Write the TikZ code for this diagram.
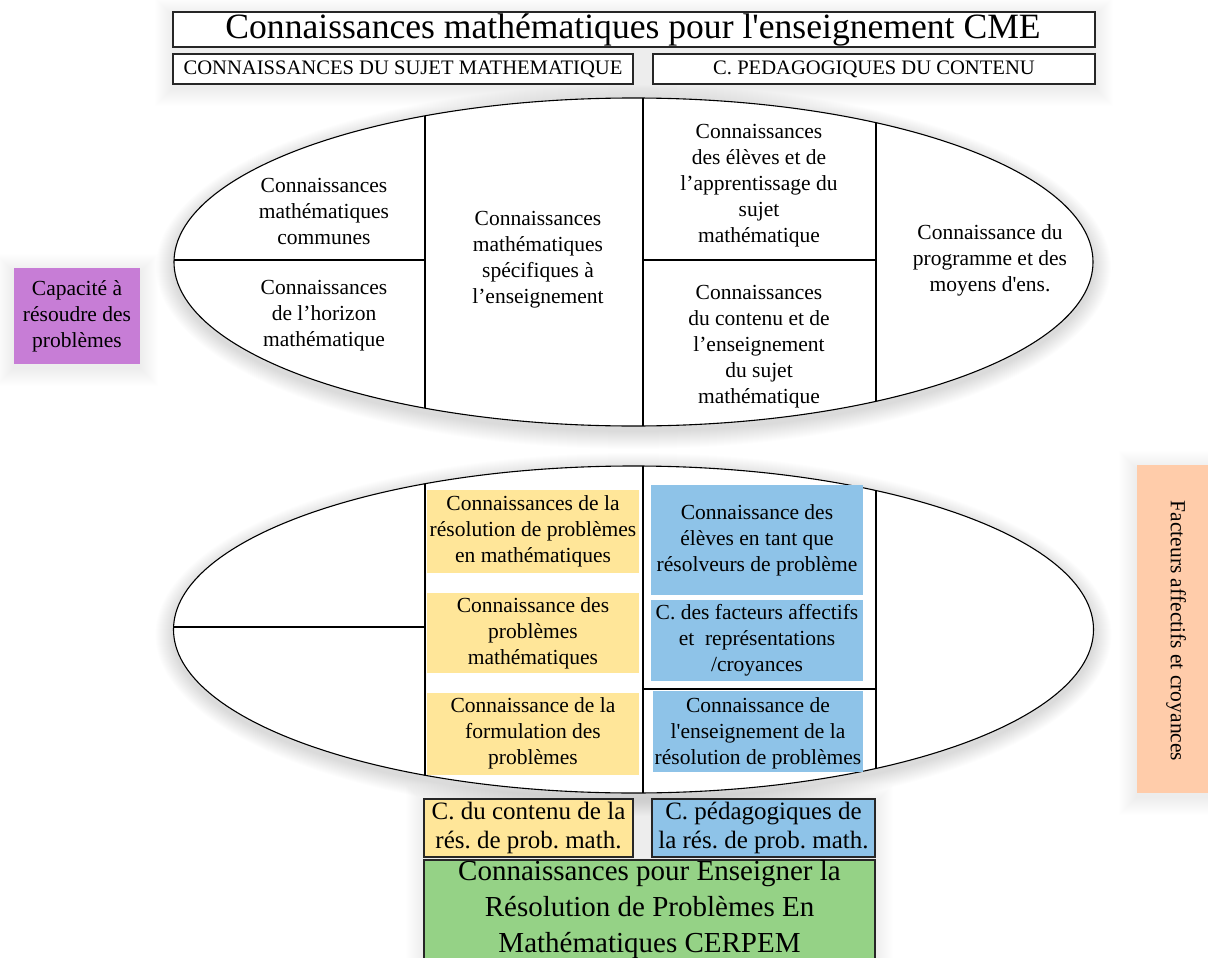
\documentclass[tikz,border=0pt]{standalone}
\usepackage{fontspec}
\setmainfont{Liberation Serif}
\newfontfamily\plainf{Liberation Serif}
\frenchspacing
\newcommand\sq{{\plainf\char39\relax}}
\definecolor{yelF}{HTML}{FFE699}
\definecolor{bluF}{HTML}{8EC3E8}
\definecolor{grnF}{HTML}{95D286}
\definecolor{peaF}{HTML}{FFCCAA}
\definecolor{purF}{HTML}{C77DD6}
\newcommand\shadowrect[4]{%
  \foreach \k in {1,...,18}{\fill[black,opacity=0.0055] ({#1-\k},{#2-\k+4}) rectangle ({#3+\k},{#4+\k+4});}}
\newcommand\shadowell[4]{%
  \foreach \k in {1,...,18}{\fill[black,opacity=0.0065] (#1,{#2+5}) ellipse ({#3+\k} and {#4+\k});}}
\tikzset{
  txt/.style={font=\fontsize{21.5}{26}\selectfont, align=center, inner sep=0pt},
  sline/.style={draw=black, line width=1.1pt},
  frame/.style={draw=black!85, line width=1.3pt},
}
\begin{document}
\begin{tikzpicture}[x=1pt,y=-1pt]
\clip (0,0) rectangle (1208,958);
\fill[white] (0,0) rectangle (1208,958);
% shadows
\shadowrect{173}{12}{1095}{84}
\shadowell{633.5}{262}{459.5}{164}
\shadowell{633.5}{629.5}{460}{163.5}
\shadowrect{14}{268}{140}{364}
\shadowrect{1137}{465}{1225}{793}
\shadowrect{424}{799}{875}{975}
% header
\draw[frame, fill=white] (173,12) rectangle (1095,47);
\node[inner sep=0pt, font=\fontsize{35.6}{40}\selectfont] (title) at (633,30) {Connaissances mathématiques pour l\sq enseignement CME};
\draw[frame, fill=white] (173,54) rectangle (633,84);
\node[inner sep=0pt, font=\fontsize{20.6}{24}\selectfont] (sujet) at (403,69.5) {CONNAISSANCES DU SUJET MATHEMATIQUE};
\draw[frame, fill=white] (653,54) rectangle (1095,84);
\node[inner sep=0pt, font=\fontsize{20.6}{24}\selectfont] (pedag) at (874,69.5) {C. PEDAGOGIQUES DU CONTENU};
% top ellipse
\fill[white] (633.5,262) ellipse (459.5 and 164);
\begin{scope}
  \clip (633.5,262) ellipse (459.5 and 164);
  \draw[sline] (425,90) -- (425,430);
  \draw[sline] (643,90) -- (643,430);
  \draw[sline] (876,90) -- (876,430);
  \draw[sline] (160,260) -- (425,260);
  \draw[sline] (643,260) -- (876,260);
\end{scope}
\draw[sline] (633.5,262) ellipse (459.5 and 164);
\node[txt] (mc) at (324,211) {Connaissances\\mathématiques\\communes};
\node[txt] (hz) at (324,316) {Connaissances\\de l’horizon\\mathématique};
\node[txt] (spe) at (538,260) {Connaissances\\mathématiques\\spécifiques à\\l’enseignement};
\node[txt] (eleves) at (759,185.5) {Connaissances\\des élèves et de\\l’apprentissage du\\sujet\\mathématique};
\node[txt] (cont) at (759,347) {Connaissances\\du contenu et de\\l’enseignement\\du sujet\\mathématique};
\node[txt] (prog) at (990,260) {Connaissance du\\programme et des\\moyens d\sq ens.};
% purple
\fill[purF] (14,268) rectangle (140,364);
\node[txt] (cap) at (77,316) {Capacité à\\résoudre des\\problèmes};
% bottom ellipse
\fill[white] (633.5,629.5) ellipse (460 and 163.5);
\begin{scope}
  \clip (633.5,629.5) ellipse (460 and 163.5);
  \draw[sline] (425,460) -- (425,800);
  \draw[sline] (643,460) -- (643,800);
  \draw[sline] (876,460) -- (876,800);
  \draw[sline] (160,627) -- (425,627);
  \draw[sline] (643,689) -- (876,689);
\end{scope}
\draw[sline] (633.5,629.5) ellipse (460 and 163.5);
\fill[yelF] (427,490) rectangle (639,573);
\fill[yelF] (427,593) rectangle (639,673);
\fill[yelF] (427,693) rectangle (639,775);
\node[txt] (y1) at (533,531) {Connaissances de la\\résolution de problèmes\\en mathématiques};
\node[txt] (y2) at (533,633) {Connaissance des\\problèmes\\mathématiques};
\node[txt] (y3) at (533,733) {Connaissance de la\\formulation des\\problèmes};
\fill[bluF] (651,485) rectangle (863,595);
\fill[bluF] (651,600) rectangle (863,681);
\fill[bluF] (653,691) rectangle (863,772);
\node[txt] (b1) at (757,540) {Connaissance des\\élèves en tant que\\résolveurs de problème};
\node[txt] (b2) at (757,640) {C. des facteurs affectifs\\et\ \ représentations\\/croyances};
\node[txt] (b3) at (758,733) {Connaissance de\\l\sq enseignement de la\\résolution de problèmes};
% peach
\fill[peaF] (1137,465) rectangle (1215,793);
\node[txt, rotate=-90] (fac) at (1176,631) {Facteurs affectifs et croyances};
% bottom boxes
\draw[frame, fill=yelF] (424,799) rectangle (633,857);
\node[inner sep=0pt, align=center, font=\fontsize{25}{29}\selectfont] (cy) at (528.5,828) {C. du contenu de la\\rés. de prob. math.};
\draw[frame, fill=bluF] (652,799) rectangle (875,857);
\node[inner sep=0pt, align=center, font=\fontsize{25}{29}\selectfont] (cb) at (763.5,828) {C. pédagogiques de\\la rés. de prob. math.};
\draw[frame, fill=grnF] (424,860) rectangle (875,970);
\node[inner sep=0pt, align=center, font=\fontsize{29}{36}\selectfont] (cerpem) at (649.5,910) {Connaissances pour Enseigner la\\Résolution de Problèmes En\\Mathématiques CERPEM};
\end{tikzpicture}
\end{document}
